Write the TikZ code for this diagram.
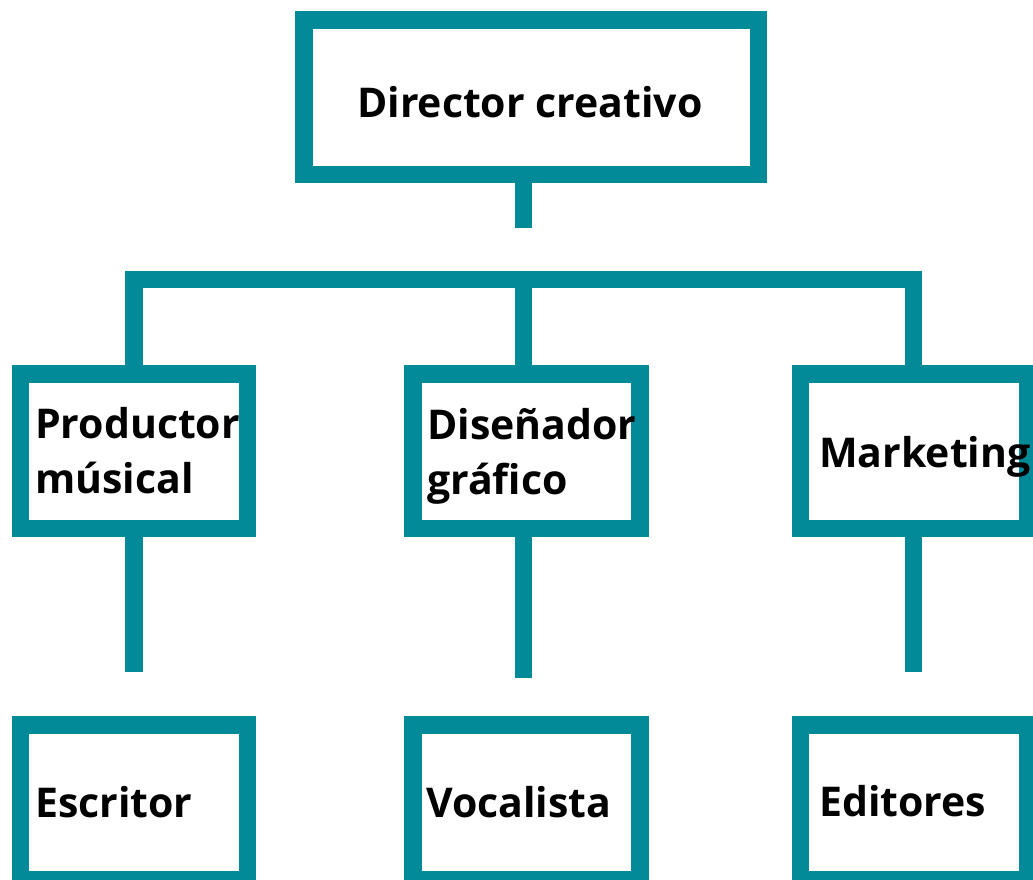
\documentclass[tikz,border=0pt]{standalone}
\usepackage{fontspec}
\setmainfont{Open Sans}
\definecolor{teal1}{RGB}{2,138,153}
\begin{document}
\begin{tikzpicture}[x=1pt,y=-1pt,
  box/.style={draw=teal1,line width=17.5pt,rectangle,inner sep=0pt,fill=white,
    minimum width=227pt,minimum height=154.5pt},
  link/.style={draw=teal1,line width=17.5pt,line join=miter,line cap=butt},
  lbl/.style={anchor=base west,inner sep=0pt,align=left,
    font=\fontsize{41}{55}\selectfont\bfseries,text=black}]
\useasboundingbox (0,0) rectangle (1033,879);
\clip (0,0) rectangle (1033,879);
% boxes
\node[box,minimum width=454.5pt] (top) at (531.25,97.25) {};
\node[box] (prod) at (134,451) {};
\node[box] (dis) at (526.5,451) {};
\node[box] (mkt) at (914,451) {};
\node[box] (esc) at (134,802) {};
\node[box] (voc) at (526.5,802) {};
\node[box] (edi) at (914,802) {};
% coordinates
\coordinate (topstem) at (523.5,227.5);
\coordinate (barL) at (134,279.5);
\coordinate (barM) at (523.5,279.5);
\coordinate (barR) at (913.5,279.5);
\coordinate (s1) at (134,672);
\coordinate (s2) at (523.5,677.5);
\coordinate (s3) at (913.5,672);
% connectors
\draw[link] (top.south -| topstem) -- (topstem);
\draw[link] (prod.north) -- (barL) -- (barR) -- (mkt.north -| barR);
\draw[link] (barM) -- (dis.north -| barM);
\draw[link] (prod.south) -- (s1);
\draw[link] (dis.south -| s2) -- (s2);
\draw[link] (mkt.south -| s3) -- (s3);
% labels
\node[lbl] (ltop) at (357,117) {Director creativo};
\node[lbl] (lprod) at (35,493) {Productor\\músical};
\node[lbl] (ldis) at (427,494) {Diseñador\\gráfico};
\node[lbl] (lmkt) at (819,467) {Marketing};
\node[lbl] (lesc) at (35,817) {Escritor};
\node[lbl] (lvoc) at (426,817) {Vocalista};
\node[lbl] (ledi) at (819,816) {Editores};
\end{tikzpicture}
\end{document}
